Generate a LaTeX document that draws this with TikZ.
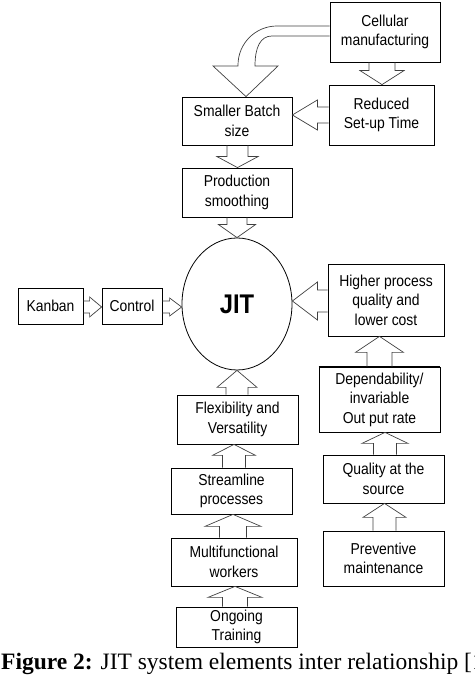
\documentclass[tikz,border=0pt]{standalone}
\usepackage{fontspec}
\setmainfont{Liberation Sans}
\newfontfamily\boxfont{Liberation Sans}[FakeStretch=0.88]
\newfontfamily\capfont{Liberation Serif}
\usetikzlibrary{calc,shapes.geometric}

\tikzset{
  box/.style={draw, line width=0.8pt, align=center, inner sep=0pt, font=\boxfont\fontsize{15.8}{19.5}\selectfont},
  blk/.style={draw=black!75, line width=0.7pt, line join=miter},
}

% hollow block arrows: column/row, source, target, half shaft, half head, head base offset
\newcommand{\blkv}[6]{%
  \draw[blk] let \p1=(#2), \p2=(#3) in
    ({#1-#4pt},\y1) -- ({#1-#4pt},{\y2+(#6pt)}) -- ({#1-#5pt},{\y2+(#6pt)}) -- (#1,\y2)
    -- ({#1+#5pt},{\y2+(#6pt)}) -- ({#1+#4pt},{\y2+(#6pt)}) -- ({#1+#4pt},\y1);}
\newcommand{\blkh}[6]{%
  \draw[blk] let \p1=(#2), \p2=(#3) in
    (\x1,{#1+#4pt}) -- ({\x2+(#6pt)},{#1+#4pt}) -- ({\x2+(#6pt)},{#1+#5pt}) -- (\x2,#1)
    -- ({\x2+(#6pt)},{#1-#5pt}) -- ({\x2+(#6pt)},{#1-#4pt}) -- (\x1,{#1-#4pt});}

\begin{document}
\begin{tikzpicture}[x=1pt,y=1pt]
  \useasboundingbox (0,0) rectangle (474,676);

  % top branch
  \node[box, minimum width=110pt, minimum height=60pt] (cell) at (385,644) {Cellular\\manufacturing};
  \node[box, minimum width=105pt, minimum height=60pt] (reduced) at (381.5,561) {Reduced\\Set-up Time};
  \node[box, minimum width=110pt, minimum height=48pt] (batch) at (237,555) {Smaller Batch\\size};
  \node[box, minimum width=110pt, minimum height=49pt] (prod) at (237,483.5) {Production\\smoothing};

  % centre
  \node[ellipse, draw, line width=0.8pt, minimum width=110pt, minimum height=132pt, inner sep=0pt,
        font=\boxfont\bfseries\fontsize{27}{27}\selectfont] (jit) at (237,372) {JIT};
  \node[box, minimum width=65pt, minimum height=36pt] (kanban) at (50.5,370) {Kanban};
  \node[box, minimum width=60pt, minimum height=36pt] (control) at (132,370) {Control};

  % right branch
  \node[box, minimum width=116pt, minimum height=72pt] (higher) at (386,376) {Higher process\\quality and\\lower cost};
  \node[box, minimum width=121pt, minimum height=65pt] (dep) at (379.5,276.5) {Dependability/\\invariable\\Out put rate};
  \node[box, minimum width=121pt, minimum height=48pt] (quality) at (383.5,197) {Quality at the\\source};
  \node[box, minimum width=121pt, minimum height=55pt] (prev) at (383.5,117.5) {Preventive\\maintenance};

  % bottom branch
  \node[box, minimum width=121pt, minimum height=49pt] (flex) at (237.5,256.5) {Flexibility and\\Versatility};
  \node[box, minimum width=121pt, minimum height=46pt] (stream) at (231.5,185) {Streamline\\processes};
  \node[box, minimum width=126pt, minimum height=48pt] (multi) at (234,114) {Multifunctional\\workers};
  \node[box, minimum width=121pt, minimum height=40pt] (ongoing) at (236.5,49) {Ongoing\\Training};

  \draw[line width=1.8pt] (dep.north west) -- (dep.north east);
  \draw[line width=1.4pt] (stream.south west) -- (stream.south east);

  % arrows
  \draw[blk] let \p1=(cell.west), \p2=(batch.north) in
    (\x1,650pt) -- (277pt,650pt) arc[start angle=90, end angle=180, radius=39pt] -- (238pt,610pt)
    -- (213pt,610pt) -- (246pt,\y2) -- (278pt,610pt) -- (255pt,610pt)
    .. controls (255pt,628pt) and (260pt,640pt) .. (272pt,640pt) -- (\x1,640pt);
  \blkv{382pt}{cell.south}{reduced.north}{13}{22}{14}
  \blkh{561pt}{reduced.west}{batch.east}{8}{15}{25}
  \blkv{237.5pt}{batch.south}{prod.north}{10.5}{20.5}{11}
  \blkv{237pt}{prod.south}{jit.north}{10}{18.5}{13}
  \blkh{369pt}{kanban.east}{control.west}{6}{10}{-12}
  \blkh{369pt}{control.east}{jit.west}{6}{9}{-12}
  \blkh{375pt}{higher.west}{jit.east}{11}{19}{25}
  \blkv{237pt}{flex.north}{jit.south}{11}{20}{-17}
  \blkv{234pt}{stream.north}{flex.south}{11.5}{21.5}{-11}
  \blkv{233pt}{multi.north}{stream.south}{13.5}{28}{-12}
  \blkv{235pt}{ongoing.north}{multi.south}{12.5}{27}{-11}
  \blkv{384.5pt}{prev.north}{quality.south}{11.5}{21.5}{-14}
  \blkv{385pt}{quality.north}{dep.south}{11.5}{23}{-11}
  \blkv{379.5pt}{dep.north}{higher.south}{12.5}{24}{-16}

  % caption
  \node[anchor=base west, inner sep=0pt, font=\capfont\fontsize{23.5}{26}\selectfont] (caption) at (1,6)
    {\textbf{Figure 2:} JIT system elements inter relationship [1]};
\end{tikzpicture}
\end{document}
